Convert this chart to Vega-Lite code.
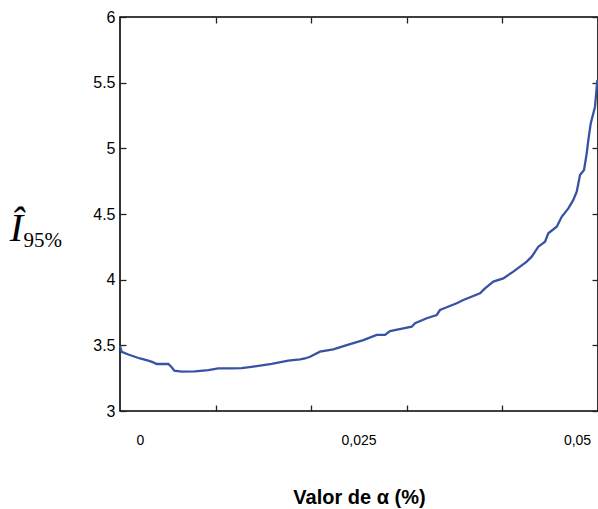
{
  "$schema": "https://vega.github.io/schema/vega-lite/v6.json",
  "width": 478,
  "height": 394,
  "autosize": "none",
  "padding": {"left": 120, "top": 17, "right": 0, "bottom": 98},
  "background": "white",
  "config": {
    "view": {"stroke": "#000000", "strokeWidth": 1.6},
    "axis": {"labelFont": "Liberation Sans", "labelColor": "#000000", "tickColor": "#222222", "titleColor": "#000000", "grid": false}
  },
  "data": {"values": [
    {"alpha": -0.002288, "I": 3.495},
    {"alpha": -0.002094, "I": 3.45},
    {"alpha": -0.001339, "I": 3.43},
    {"alpha": 0.0, "I": 3.40},
    {"alpha": 0.00095, "I": 3.383},
    {"alpha": 0.001522, "I": 3.37},
    {"alpha": 0.001911, "I": 3.358},
    {"alpha": 0.003238, "I": 3.358},
    {"alpha": 0.003627, "I": 3.333},
    {"alpha": 0.003924, "I": 3.307},
    {"alpha": 0.004771, "I": 3.30},
    {"alpha": 0.006293, "I": 3.302},
    {"alpha": 0.007815, "I": 3.312},
    {"alpha": 0.008959, "I": 3.325},
    {"alpha": 0.010492, "I": 3.325},
    {"alpha": 0.011636, "I": 3.327},
    {"alpha": 0.013158, "I": 3.34},
    {"alpha": 0.015069, "I": 3.358},
    {"alpha": 0.016968, "I": 3.383},
    {"alpha": 0.018307, "I": 3.393},
    {"alpha": 0.018879, "I": 3.40},
    {"alpha": 0.019451, "I": 3.413},
    {"alpha": 0.020595, "I": 3.452},
    {"alpha": 0.022117, "I": 3.47},
    {"alpha": 0.02365, "I": 3.502},
    {"alpha": 0.025549, "I": 3.54},
    {"alpha": 0.027082, "I": 3.579},
    {"alpha": 0.028032, "I": 3.579},
    {"alpha": 0.028604, "I": 3.609},
    {"alpha": 0.030126, "I": 3.629},
    {"alpha": 0.031087, "I": 3.642},
    {"alpha": 0.031465, "I": 3.668},
    {"alpha": 0.032803, "I": 3.706},
    {"alpha": 0.033947, "I": 3.731},
    {"alpha": 0.034325, "I": 3.769},
    {"alpha": 0.035092, "I": 3.79},
    {"alpha": 0.036236, "I": 3.82},
    {"alpha": 0.036991, "I": 3.845},
    {"alpha": 0.038902, "I": 3.896},
    {"alpha": 0.039474, "I": 3.934},
    {"alpha": 0.040423, "I": 3.985},
    {"alpha": 0.041568, "I": 4.01},
    {"alpha": 0.042712, "I": 4.061},
    {"alpha": 0.043478, "I": 4.099},
    {"alpha": 0.044245, "I": 4.137},
    {"alpha": 0.044817, "I": 4.175},
    {"alpha": 0.045572, "I": 4.251},
    {"alpha": 0.046339, "I": 4.289},
    {"alpha": 0.046716, "I": 4.353},
    {"alpha": 0.047677, "I": 4.403},
    {"alpha": 0.048249, "I": 4.479},
    {"alpha": 0.049005, "I": 4.543},
    {"alpha": 0.049577, "I": 4.607},
    {"alpha": 0.049966, "I": 4.67},
    {"alpha": 0.050343, "I": 4.797},
    {"alpha": 0.050801, "I": 4.835},
    {"alpha": 0.05111, "I": 4.962},
    {"alpha": 0.051293, "I": 5.063},
    {"alpha": 0.051568, "I": 5.19},
    {"alpha": 0.052059, "I": 5.317},
    {"alpha": 0.052254, "I": 5.469},
    {"alpha": 0.052323, "I": 5.52}
  ]},
  "resolve": {"axis": {"x": "independent", "y": "independent"}},
  "layer": [
    {
      "mark": {"type": "line", "color": "#3852a4", "strokeWidth": 2.3},
      "encoding": {
        "x": {"field": "alpha", "type": "quantitative",
          "scale": {"domain": [-0.00229, 0.0524], "nice": false, "zero": false},
          "axis": {"orient": "bottom", "values": [0, 0.025, 0.05], "ticks": false, "domain": false,
            "labelExpr": "replace(toString(datum.value), '.', ',')",
            "labelFontSize": 14, "labelPadding": 22, "labelFlush": false,
            "title": "Valor de α (%)", "titleFont": "Liberation Sans", "titleFontSize": 20, "titleFontWeight": "bold",
            "titleBaseline": "alphabetic", "titleY": 92}},
        "y": {"field": "I", "type": "quantitative",
          "scale": {"domain": [3, 6], "nice": false, "zero": false},
          "axis": {"orient": "left", "values": [3, 3.5, 4, 4.5, 5, 5.5, 6], "ticks": false, "domain": false,
            "labelExpr": "toString(datum.value)", "labelFontSize": 16, "labelPadding": 5, "labelFlush": false,
            "title": "Î", "titleAngle": 0, "titleFont": "Liberation Serif", "titleFontStyle": "italic",
            "titleFontWeight": "normal", "titleFontSize": 40, "titleAlign": "center", "titleBaseline": "alphabetic",
            "titleX": -104, "titleY": 223}}
      }
    },
    {
      "mark": {"type": "line", "strokeOpacity": 0},
      "encoding": {
        "x": {"field": "alpha", "type": "quantitative",
          "axis": {"orient": "bottom", "values": [0.008648, 0.019586, 0.030524, 0.041462], "labels": false,
            "domain": false, "ticks": true, "tickSize": -6, "tickWidth": 1.3, "title": null}},
        "y": {"field": "I", "type": "quantitative",
          "axis": {"orient": "left", "values": [3, 3.5, 4, 4.5, 5, 5.5, 6], "labels": false, "domain": false,
            "ticks": true, "tickSize": -6, "tickWidth": 1.3,
            "title": "95%", "titleAngle": 0, "titleFont": "Liberation Serif", "titleFontWeight": "normal",
            "titleFontSize": 21, "titleAlign": "left", "titleBaseline": "alphabetic",
            "titleX": -97, "titleY": 229}}
      }
    },
    {
      "mark": {"type": "line", "strokeOpacity": 0},
      "encoding": {
        "x": {"field": "alpha", "type": "quantitative",
          "axis": {"orient": "top", "values": [0.008648, 0.019586, 0.030524, 0.041462], "labels": false,
            "domain": false, "ticks": true, "tickSize": -6, "tickWidth": 1.3, "title": null}},
        "y": {"field": "I", "type": "quantitative",
          "axis": {"orient": "right", "values": [3, 3.5, 4, 4.5, 5, 5.5, 6], "labels": false, "domain": false,
            "ticks": true, "tickSize": -6, "tickWidth": 1.3, "title": null}}
      }
    }
  ]
}
